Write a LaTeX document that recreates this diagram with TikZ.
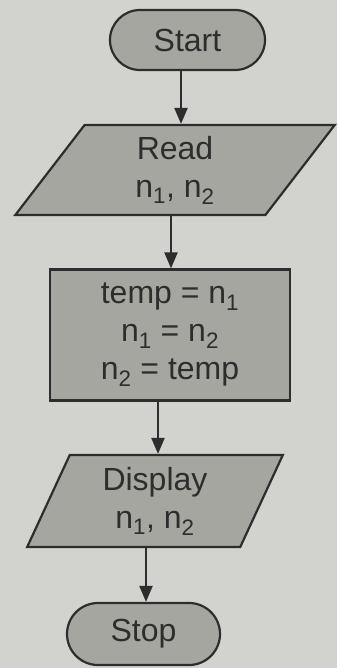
\documentclass[tikz,border=0pt]{standalone}
\usepackage{fontspec}
\setmainfont{Liberation Sans}
\usetikzlibrary{shapes.geometric,arrows.meta}
\definecolor{bgc}{RGB}{210,210,206}
\definecolor{shp}{RGB}{166,166,161}
\definecolor{ink}{RGB}{45,45,45}
\begin{document}
\begin{tikzpicture}[x=1pt,y=-1pt,
  base/.style={draw=ink, fill=shp, line width=2.2pt, text=ink,
    font=\fontsize{32}{38}\selectfont, align=center, inner sep=0pt},
  term/.style={base, rectangle, rounded corners=30pt, minimum width=155pt, minimum height=60pt},
  io/.style={base, trapezium, trapezium stretches=true, minimum height=90pt},
  proc/.style={base, rectangle, minimum width=240pt, minimum height=131pt},
  arr/.style={draw=ink, line width=2.2pt, -{Triangle[length=16pt,width=13pt]}}]
\fill[bgc] (0,0) rectangle (337,668);
\useasboundingbox (0,0) rectangle (337,668);
\node[term] (s) at (187.5,40) {Start};
\node[io, trapezium left angle=66, trapezium right angle=114, minimum width=320pt] (r) at (175,170)
  {Read\\n\textsubscript{1}, n\textsubscript{2}};
\node[proc] (p) at (170,335)
  {temp = n\textsubscript{1}\\n\textsubscript{1} = n\textsubscript{2}\\n\textsubscript{2} = temp};
\node[io, trapezium left angle=69, trapezium right angle=111, minimum width=256pt, minimum height=92pt] (d) at (155,501)
  {Display\\n\textsubscript{1}, n\textsubscript{2}};
\node[term, minimum width=153pt, minimum height=62pt, rounded corners=31pt] (e) at (143.5,634) {Stop};
\draw[arr] ([xshift=-6.5pt]s.south) -- ([xshift=-6.5pt]s.south |- r.north);
\draw[arr] ([xshift=-4pt]r.south) -- ([xshift=-4pt]r.south |- p.north);
\draw[arr] ([xshift=-12pt]p.south) -- ([xshift=-12pt]p.south |- d.north);
\draw[arr] ([xshift=-9pt]d.south) -- ([xshift=-9pt]d.south |- e.north);
\end{tikzpicture}
\end{document}
